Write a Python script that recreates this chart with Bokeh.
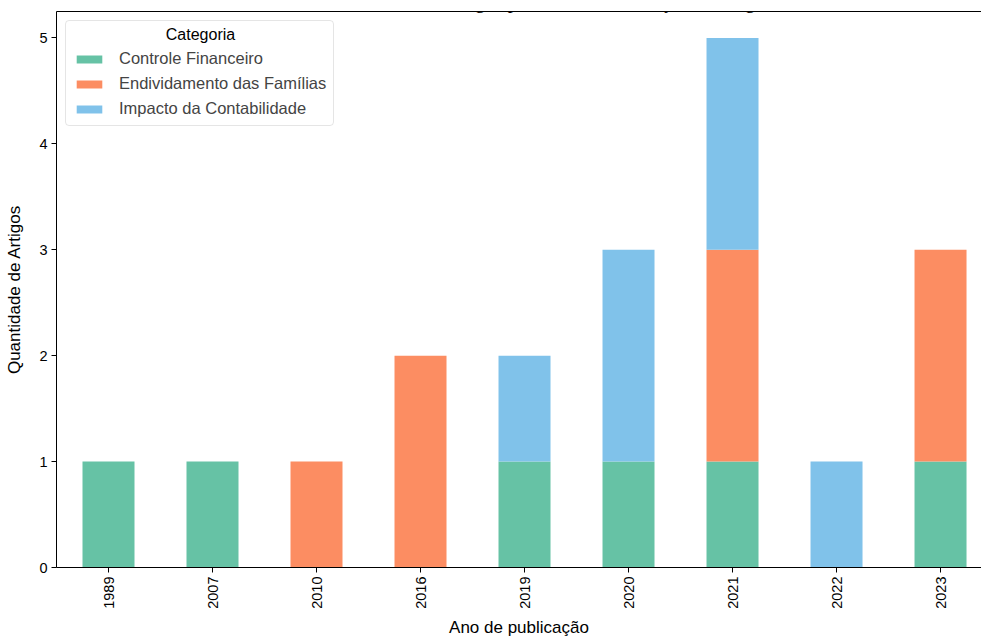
from bokeh.plotting import figure
from bokeh.models import Range1d, LinearAxis, Legend, LegendItem, Label, FixedTicker
from bokeh.embed import file_html
from bokeh.resources import INLINE

years = ["1989", "2007", "2010", "2016", "2019", "2020", "2021", "2022", "2023"]
categories = ["Controle Financeiro", "Endividamento das Famílias", "Impacto da Contabilidade"]
controle = [1, 1, 0, 0, 1, 1, 1, 0, 1]
endividamento = [0, 0, 1, 2, 0, 0, 2, 0, 2]
impacto = [0, 0, 0, 0, 1, 2, 2, 1, 0]
colors = ["#66c2a5", "#fc8d62", "#80c2ea"]
legend_title = "Categoria"
title_text = "Quantidade de Artigos por Ano de Publicação e Categoria"

W, H = 981, 639
FONT = "Liberation Sans"
LEFT, TOP, BOTTOM = 56, 11, 71
FRAME_H = H - TOP - BOTTOM

xs = list(range(len(years)))
data = {"x": xs, "c0": controle, "c1": endividamento, "c2": impacto}

p = figure(width=W, height=H, output_backend="svg", toolbar_location=None,
           x_range=Range1d(-0.5, 8.394), y_range=Range1d(0, 5.25),
           min_border_left=LEFT, min_border_right=0, min_border_top=TOP, min_border_bottom=BOTTOM)
p.outline_line_color = None
p.xgrid.visible = False
p.ygrid.visible = False
p.background_fill_color = "white"
p.border_fill_color = "white"

renderers = p.vbar_stack(["c0", "c1", "c2"], x="x", width=0.5, color=colors,
                         line_color=None, source=data)

for ax in (p.xaxis[0], p.yaxis[0]):
    ax.axis_line_color = "black"
    ax.axis_line_width = 1
    ax.major_tick_line_color = "black"
    ax.major_tick_out = 5
    ax.major_tick_in = 0
    ax.minor_tick_line_color = None
    ax.major_label_text_font = FONT
    ax.major_label_text_font_size = "14.5px"
    ax.major_label_text_color = "black"
    ax.major_label_standoff = 4
    ax.axis_label_text_font = FONT
    ax.axis_label_text_font_size = "17px"
    ax.axis_label_text_font_style = "normal"
    ax.axis_label_text_color = "black"

p.xaxis.ticker = FixedTicker(ticks=xs)
p.xaxis.major_label_overrides = {i: y for i, y in enumerate(years)}
p.xaxis.major_label_orientation = 1.5708
p.xaxis.axis_label = "Ano de publicação"
p.xaxis.axis_label_standoff = 6
p.yaxis.ticker = FixedTicker(ticks=[0, 1, 2, 3, 4, 5])
p.yaxis.axis_label = "Quantidade de Artigos"
p.yaxis.axis_label_standoff = 12

top = LinearAxis(major_tick_line_color=None, minor_tick_line_color=None,
                 major_label_text_font_size="0px", axis_line_color="black")
top.ticker = FixedTicker(ticks=[])
p.add_layout(top, "above")

legend = Legend(items=[LegendItem(label=c, renderers=[r]) for c, r in zip(categories, renderers)],
                location="top_left")
legend.title = " "
legend.title_text_font = FONT
legend.title_text_font_size = "16px"
legend.title_text_font_style = "normal"
legend.title_standoff = 3
legend.label_text_font = FONT
legend.label_text_font_size = "16.5px"
legend.border_line_color = "#cccccc"
legend.border_radius = 4
legend.background_fill_alpha = 0.0
legend.glyph_width = 32
legend.glyph_height = 10
legend.label_height = 19
legend.spacing = 6
legend.padding = 7
legend.margin = 9
legend.label_standoff = 14
p.add_layout(legend)

# screen units here are relative to the plot frame (origin at frame bottom-left)
p.add_layout(Label(x=200 - LEFT, y=FRAME_H - (35 - TOP), x_units="screen", y_units="screen",
                   text=legend_title, text_font=FONT, text_font_size="16px",
                   text_align="center", text_baseline="middle", text_color="black",
                   level="overlay"))

p.add_layout(Label(x=555 - LEFT, y=FRAME_H + TOP - 1, x_units="screen", y_units="screen",
                   text=title_text, text_font="Liberation Serif",
                   text_font_size="20px", text_align="center",
                   text_baseline="alphabetic", text_color="black",
                   level="overlay"))

open("out.html", "w").write(file_html(p, INLINE))
